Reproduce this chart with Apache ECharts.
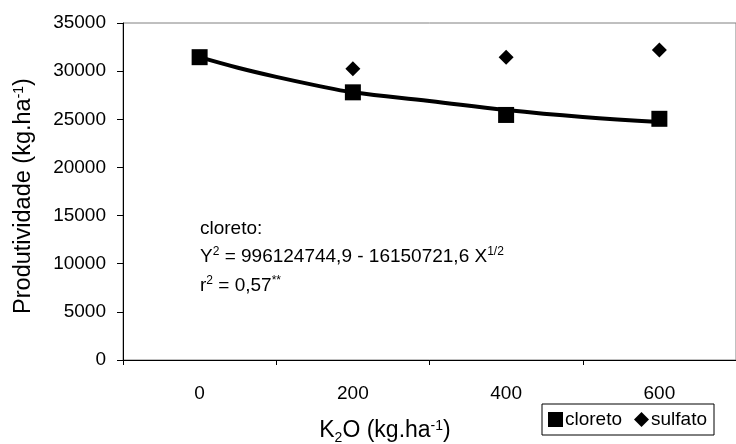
<!DOCTYPE html>
<html lang="pt">
  <head>
    <meta charset="UTF-8" />
    <title>Produtividade</title>
    <script src="https://cdn.jsdelivr.net/npm/echarts@6/dist/echarts.min.js"></script>
  </head>
  <style>
    html,
    body {
      margin: 0;
      padding: 0;
      background: #fff;
    }
    #echart {
      width: 736px;
      height: 444px;
    }
  </style>
  <body>
    <div id="echart"></div>
  </body>
  <script>
    // doses de K2O
    const doses = [0, 200, 400, 600];
    const cloreto = [31450, 27800, 25450, 25050];
    const sulfato = [31450, 30250, 31450, 32200];
    // curva ajustada
    const curvaX = [0, 50, 100, 150, 200, 300, 400, 500, 600];
    const curvaY = [31450, 30350, 29400, 28550, 27800, 26900, 25960, 25240, 24720];
    const xTicks = [-100, 100, 300, 500, 700];

    const font = "Liberation Sans, Arial, sans-serif";
    const chart = echarts.init(document.getElementById("echart"));

    const option = {
      animation: false,
      textStyle: { fontFamily: font, color: "#000" },
      grid: {
        left: 123,
        top: 23,
        width: 626,
        height: 337,
        show: true,
        borderColor: "#808080",
        borderWidth: 1,
      },
      legend: {
        left: 542,
        top: 404,
        itemGap: 12,
        itemWidth: 15,
        itemHeight: 15,
        padding: [6, 7, 6, 6],
        borderColor: "#000",
        borderWidth: 1,
        textStyle: { fontSize: 19, fontFamily: font, color: "#000", padding: [0, 0, 0, -3] },
        data: [
          { name: "cloreto", icon: "rect" },
          { name: "sulfato", icon: "diamond" },
        ],
      },
      xAxis: {
        type: "value",
        min: -100,
        max: 700,
        splitLine: { show: false },
        axisLine: { onZero: false, lineStyle: { color: "#000" } },
        axisTick: {
          customValues: xTicks,
          length: 5,
          lineStyle: { color: "#000" },
        },
        axisLabel: {
          customValues: doses,
          fontSize: 19,
          fontFamily: font,
          color: "#000",
          margin: 24,
        },
      },
      yAxis: {
        type: "value",
        min: 0,
        max: 35000,
        interval: 5000,
        splitLine: { show: false },
        axisLine: { show: true, onZero: false, lineStyle: { color: "#000" } },
        axisTick: { show: true, length: 6, lineStyle: { color: "#000" } },
        axisLabel: {
          fontSize: 19,
          fontFamily: font,
          color: "#000",
          margin: 17,
          formatter: (v) => String(v),
        },
      },
      graphic: [
        {
          // título do eixo y
          type: "text",
          x: 24,
          y: 196,
          rotation: Math.PI / 2,
          style: {
            text: "{a|Produtividade (kg.ha}{s|-1}{a|)}",
            align: "center",
            verticalAlign: "middle",
            rich: {
              a: { fontSize: 23.5, fontFamily: font, fill: "#000", lineHeight: 28, verticalAlign: "middle" },
              s: { fontSize: 14, fontFamily: font, fill: "#000", lineHeight: 28, verticalAlign: "top", padding: [2, 0, 0, 0] },
            },
          },
        },
        {
          // título do eixo x
          type: "text",
          x: 385,
          y: 431,
          style: {
            text: "{a|K}{b|2}{a|O (kg.ha}{s|-1}{a|)}",
            align: "center",
            verticalAlign: "middle",
            rich: {
              a: { fontSize: 23, fontFamily: font, fill: "#000", lineHeight: 28, verticalAlign: "middle" },
              b: { fontSize: 14, fontFamily: font, fill: "#000", lineHeight: 28, verticalAlign: "bottom" },
              s: { fontSize: 14, fontFamily: font, fill: "#000", lineHeight: 28, verticalAlign: "top", padding: [2, 0, 0, 0] },
            },
          },
        },
        {
          type: "text",
          left: 200,
          top: 219,
          style: {
            text: [
              "{a|cloreto:}",
              "{a|Y}{s|2}{a| = 996124744,9 - 16150721,6 X}{s|1/2}",
              "{a|r}{s|2}{a| = 0,57}{s|**}",
            ].join("\n"),
            rich: {
              a: { fontSize: 19, fontFamily: font, fill: "#000", lineHeight: 28.5, verticalAlign: "middle" },
              s: { fontSize: 12, fontFamily: font, fill: "#000", lineHeight: 28.5, verticalAlign: "top", padding: [3, 0, 0, 0] },
            },
          },
        },
      ],
      series: [
        {
          name: "curva",
          type: "line",
          data: curvaX.map((x, i) => [x, curvaY[i]]),
          smooth: 0.4,
          showSymbol: false,
          lineStyle: { color: "#000", width: 4 },
          z: 2,
        },
        {
          name: "sulfato",
          type: "scatter",
          data: doses.map((x, i) => [x, sulfato[i]]),
          symbol: "diamond",
          symbolSize: 15,
          itemStyle: { color: "#000", opacity: 1 },
          z: 3,
        },
        {
          name: "cloreto",
          type: "scatter",
          data: doses.map((x, i) => [x, cloreto[i]]),
          symbol: "rect",
          symbolSize: 16,
          itemStyle: { color: "#000", opacity: 1 },
          z: 4,
        },
      ],
    };
    chart.setOption(option);
  </script>
</html>
